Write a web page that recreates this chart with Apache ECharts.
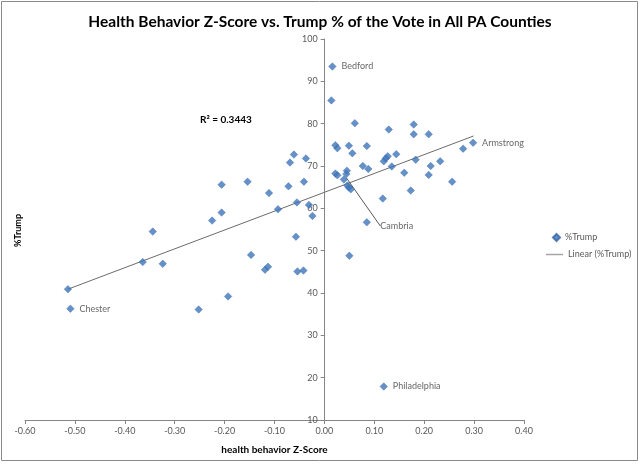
<!DOCTYPE html>
<html>
<head>
<meta charset="utf-8">
<script src="https://cdn.jsdelivr.net/npm/echarts@6/dist/echarts.min.js"></script>
<style>html,body{margin:0;padding:0;background:#fff;}#c{width:640px;height:464px;}</style>
</head>
<body>
<div id="c"></div>
<script>
// Health behavior Z-score (x) and Trump % (y) per PA county
const hbZ = [-0.061,-0.037,-0.069,-0.154,-0.041,-0.206,-0.072,-0.111,-0.055,-0.031,-0.093,-0.206,-0.024,-0.225,-0.344,-0.057,
  -0.147,-0.364,-0.324,-0.113,-0.119,-0.054,-0.042,-0.514,-0.193,-0.509,-0.252,
  0.050,0.119,
  0.016,0.014,0.061,0.179,0.129,0.179,0.209,0.298,0.022,0.026,0.049,0.085,0.278,0.056,0.144,0.127,0.123,0.119,0.183,0.232,
  0.077,0.135,0.213,0.088,0.045,0.022,0.044,0.026,0.039,0.160,0.209,0.256,0.046,0.049,0.053,0.173,0.117,0.085];
const trumpPct = [72.7,71.8,70.8,66.3,66.3,65.6,65.2,63.6,61.4,60.8,59.8,59.0,58.2,57.1,54.5,53.3,
  49.0,47.3,46.9,46.2,45.5,45.1,45.3,40.9,39.2,36.3,36.1,
  48.8,17.9,
  93.5,85.5,80.1,79.8,78.6,77.5,77.5,75.5,74.9,74.2,74.8,74.7,74.1,73.0,72.8,72.3,71.8,71.1,71.5,71.1,
  70.0,69.9,70.0,69.3,68.9,68.2,68.1,67.8,66.8,68.4,67.9,66.3,65.4,64.9,64.5,64.2,62.3,56.7];
const countyLabels = {25:'Chester',28:'Philadelphia',29:'Bedford',36:'Armstrong',55:'Cambria'};
const leaderLabel = 'Cambria';
// Linear trendline endpoints
const trendX = [-0.514, 0.299];
const trendY = [40.9, 77.1];
const rSquaredText = 'R² = 0.3443';
const xTicks = {min:-0.6, max:0.4, interval:0.1};
const yTicks = {min:10, max:100, interval:10};

const FONT = 'Lato, "Liberation Sans", sans-serif';
const GRID_LEFT = 25;
const chart = echarts.init(document.getElementById('c'), null, {renderer:'canvas'});

const scatterData = hbZ.map((x,i) => {
  const item = {value:[x, trumpPct[i]]};
  if (countyLabels[i]) {
    item.name = countyLabels[i];
    item.label = {show:true, formatter:countyLabels[i]};
    if (countyLabels[i] === leaderLabel) item.labelLine = {show:true};
  }
  return item;
});

chart.setOption({
  animation:false,
  textStyle:{fontFamily:FONT},
  title:{text:'Health Behavior Z-Score vs. Trump % of the Vote in All PA Counties', left:'center', top:9,
    textStyle:{fontFamily:FONT, fontSize:15.5, fontWeight:'bold', color:'#000'}},
  grid:{left:GRID_LEFT, right:116, top:39, bottom:44},
  legend:[
    {data:[{name:'%Trump', icon:'diamond'}], left:547, top:228, itemWidth:7, itemHeight:7,
     textStyle:{fontFamily:FONT, fontSize:9, color:'#595959'}},
    {data:[{name:'Linear (%Trump)', icon:'rect'}], left:541, top:245, itemWidth:17, itemHeight:1.5,
     textStyle:{fontFamily:FONT, fontSize:9, color:'#595959'}}
  ],
  xAxis:{type:'value', min:xTicks.min, max:xTicks.max, interval:xTicks.interval,
    name:'health behavior Z-Score', nameLocation:'middle', nameGap:25,
    nameTextStyle:{fontFamily:FONT, fontSize:10, fontWeight:'bold', color:'#000'},
    axisLine:{onZero:false, lineStyle:{color:'#868686'}},
    axisTick:{show:true, length:4, lineStyle:{color:'#868686'}},
    axisLabel:{fontFamily:FONT, fontSize:9, color:'#595959', margin:7, formatter:v=>v.toFixed(2)},
    splitLine:{show:false}},
  yAxis:{type:'value', min:yTicks.min, max:yTicks.max, interval:yTicks.interval,
    axisLine:{show:true, onZero:false, lineStyle:{color:'#868686'}},
    axisTick:{show:true, length:4, lineStyle:{color:'#868686'}},
    axisLabel:{fontFamily:FONT, fontSize:9, color:'#595959', margin:7},
    splitLine:{show:false}},
  graphic:[
    {type:'rect', shape:{x:1.5, y:1.5, width:636, height:459}, style:{fill:null, stroke:'#8a8a8a', lineWidth:1}, silent:true},
    {type:'text', left:200, top:115, style:{text:rSquaredText, font:'bold 10px '+FONT, fill:'#000'}},
    {type:'text', left:14, top:214, rotation:Math.PI/2, style:{text:'%Trump', font:'bold 9px '+FONT, fill:'#000'}}
  ],
  series:[
    {name:'%Trump', type:'scatter', symbol:'diamond', symbolSize:7.5, data:scatterData,
     itemStyle:{color:'#3F76BC', borderColor:'#3465A4', borderWidth:0.5},
     label:{show:false, position:'right', distance:5, fontFamily:FONT, fontSize:9, color:'#404040'},
     labelLine:{show:false, lineStyle:{color:'#595959', width:1}},
     labelLayout:function(p){ return p.text === leaderLabel ? {dx:25, dy:52} : {}; },
     z:3},
    {name:'Linear (%Trump)', type:'line', symbol:'none', data:trendX.map((x,i)=>[x, trendY[i]]),
     lineStyle:{color:'#6b6b6b', width:1}, itemStyle:{color:'#a6a6a6'}, z:2}
  ]
});
// place the vertical axis (line, ticks, labels) where x = 0, as in the reference
const zeroPx = chart.convertToPixel({xAxisIndex:0}, 0);
chart.setOption({yAxis:{offset: GRID_LEFT - zeroPx}});
</script>
</body>
</html>
